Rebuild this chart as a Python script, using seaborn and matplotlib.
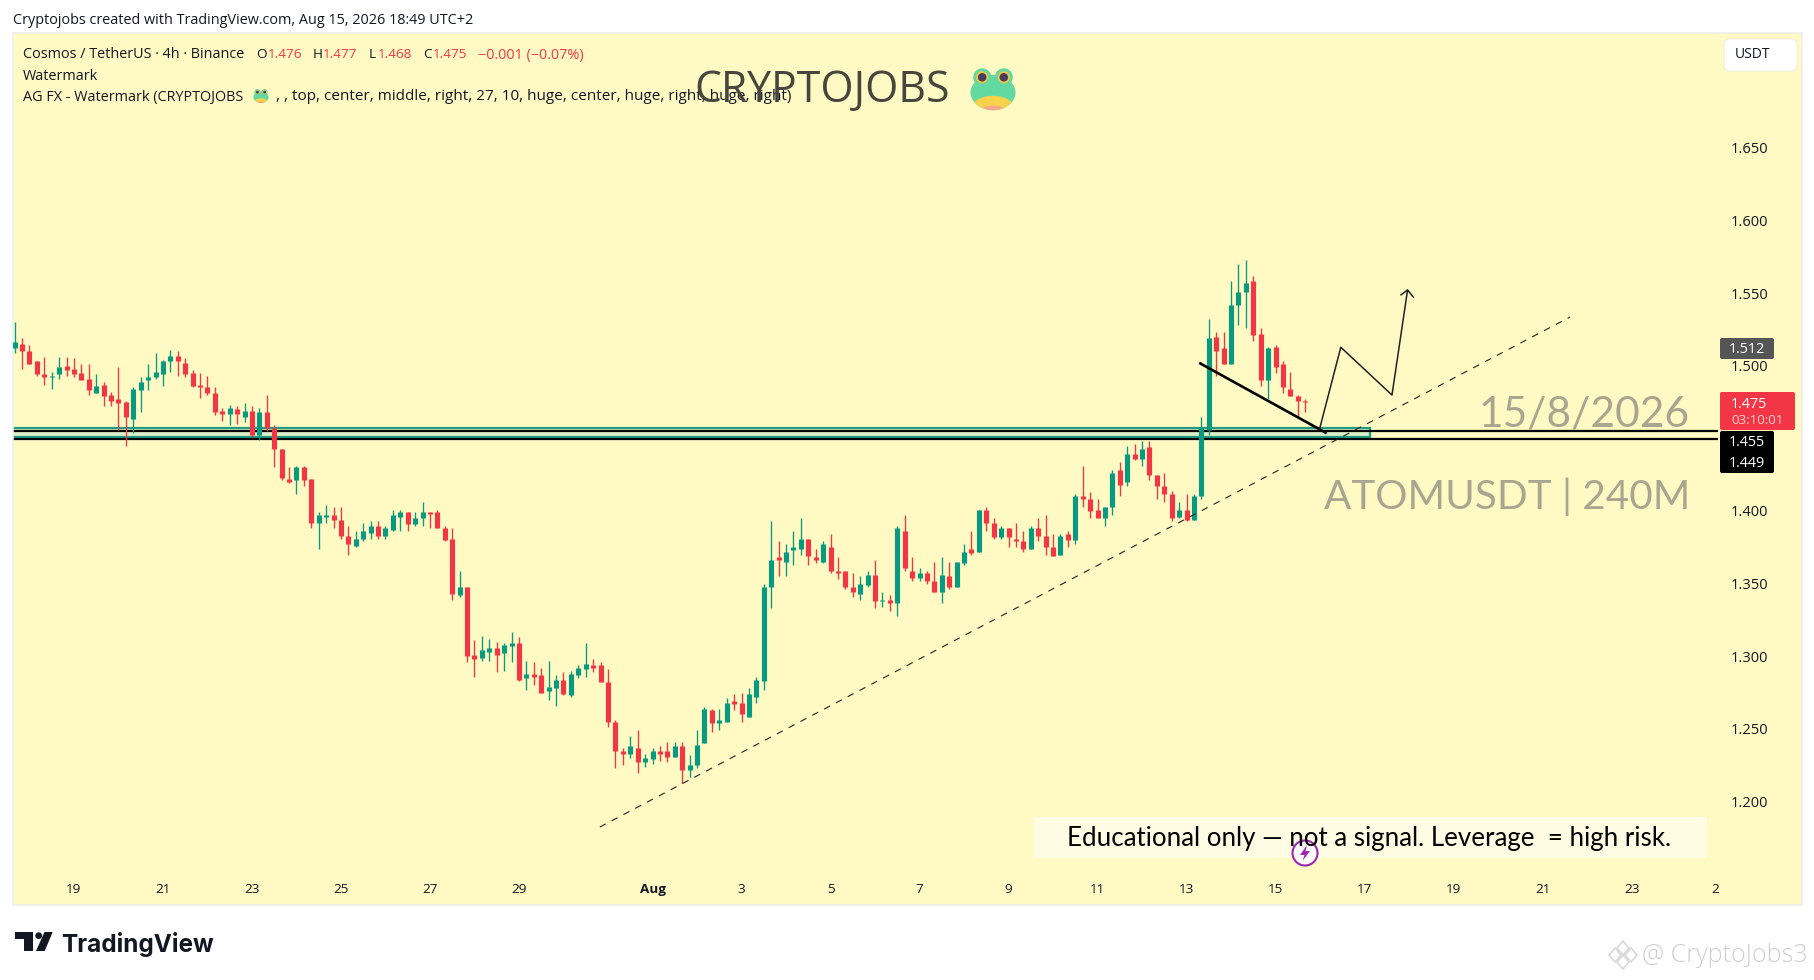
import numpy as np
import pandas as pd
import seaborn as sns
import matplotlib
matplotlib.use('Agg')
import matplotlib.pyplot as plt
from matplotlib.patches import Ellipse, Rectangle, FancyBboxPatch, Polygon, Circle

# ATOMUSDT 4h candles, first bar is 8 bars before Jul 19 00:00
first_bar = -8
opens = [
    1.512,1.515,1.510,1.503,1.494,1.492,1.494,1.500,1.498,1.495,
    1.491,1.481,1.487,1.480,1.477,1.475,1.463,1.483,1.490,1.492,
    1.494,1.503,1.507,1.502,1.495,1.487,1.485,1.481,1.469,1.467,
    1.470,1.465,1.469,1.452,1.468,1.457,1.443,1.422,1.421,1.430,
    1.422,1.392,1.396,1.397,1.394,1.383,1.376,1.381,1.385,1.390,
    1.383,1.387,1.396,1.399,1.391,1.395,1.399,1.399,1.388,1.381,
    1.342,1.348,1.301,1.299,1.303,1.306,1.302,1.307,1.309,1.285,
    1.288,1.287,1.276,1.278,1.284,1.273,1.287,1.291,1.294,1.294,
    1.282,1.255,1.235,1.233,1.237,1.227,1.229,1.235,1.235,1.231,
    1.238,1.222,1.225,1.240,1.263,1.254,1.255,1.269,1.268,1.258,
    1.272,1.283,1.348,1.368,1.365,1.373,1.374,1.381,1.368,1.365,
    1.375,1.359,1.359,1.348,1.343,1.349,1.356,1.338,1.339,1.337,
    1.386,1.359,1.354,1.357,1.352,1.344,1.355,1.348,1.364,1.374,
    1.372,1.401,1.392,1.382,1.388,1.381,1.379,1.374,1.388,1.383,
    1.375,1.370,1.384,1.380,1.410,1.408,1.401,1.395,1.403,1.428,
    1.420,1.439,1.436,1.444,1.425,1.417,1.412,1.396,1.401,1.394,
    1.410,1.456,1.520,1.512,1.501,1.542,1.551,1.558,1.522,1.490,
    1.513,1.501,1.484,1.479,1.476]
highs = [
    1.530,1.519,1.514,1.503,1.506,1.496,1.506,1.506,1.505,1.501,
    1.501,1.494,1.489,1.482,1.499,1.476,1.485,1.492,1.501,1.509,
    1.504,1.511,1.510,1.505,1.497,1.495,1.493,1.485,1.471,1.473,
    1.472,1.474,1.472,1.471,1.480,1.459,1.443,1.430,1.431,1.431,
    1.422,1.399,1.404,1.403,1.403,1.390,1.386,1.392,1.393,1.393,
    1.390,1.401,1.401,1.399,1.399,1.406,1.399,1.401,1.390,1.388,
    1.359,1.348,1.311,1.314,1.312,1.310,1.309,1.317,1.313,1.297,
    1.296,1.292,1.297,1.287,1.289,1.290,1.294,1.309,1.298,1.296,
    1.291,1.256,1.237,1.245,1.249,1.233,1.237,1.238,1.241,1.241,
    1.241,1.232,1.249,1.265,1.264,1.264,1.271,1.274,1.275,1.278,
    1.286,1.350,1.393,1.379,1.377,1.386,1.395,1.381,1.374,1.379,
    1.384,1.368,1.359,1.357,1.355,1.359,1.366,1.344,1.342,1.390,
    1.397,1.368,1.361,1.359,1.365,1.368,1.365,1.365,1.377,1.386,
    1.401,1.403,1.395,1.390,1.388,1.392,1.386,1.390,1.395,1.397,
    1.384,1.384,1.386,1.412,1.431,1.413,1.408,1.403,1.428,1.434,
    1.445,1.446,1.448,1.448,1.425,1.426,1.414,1.406,1.412,1.412,
    1.465,1.532,1.523,1.523,1.558,1.570,1.573,1.562,1.526,1.513,
    1.514,1.503,1.496,1.480,1.477]
lows = [
    1.509,1.498,1.501,1.493,1.487,1.484,1.491,1.493,1.492,1.490,
    1.480,1.481,1.472,1.472,1.456,1.445,1.454,1.468,1.483,1.491,
    1.486,1.496,1.493,1.492,1.485,1.478,1.480,1.466,1.462,1.459,
    1.460,1.461,1.451,1.449,1.455,1.430,1.421,1.419,1.412,1.417,
    1.388,1.374,1.392,1.388,1.381,1.370,1.375,1.379,1.381,1.381,
    1.381,1.386,1.386,1.386,1.390,1.390,1.388,1.388,1.379,1.339,
    1.341,1.296,1.286,1.297,1.297,1.289,1.290,1.296,1.283,1.277,
    1.280,1.275,1.270,1.266,1.273,1.272,1.285,1.286,1.289,1.282,
    1.251,1.223,1.225,1.230,1.220,1.224,1.226,1.228,1.227,1.231,
    1.213,1.217,1.223,1.240,1.248,1.249,1.255,1.263,1.255,1.258,
    1.268,1.277,1.333,1.355,1.355,1.363,1.370,1.363,1.364,1.364,
    1.357,1.353,1.346,1.341,1.339,1.348,1.333,1.334,1.331,1.328,
    1.359,1.352,1.352,1.350,1.344,1.337,1.346,1.348,1.363,1.370,
    1.372,1.386,1.381,1.381,1.375,1.375,1.372,1.374,1.379,1.370,
    1.369,1.370,1.375,1.377,1.403,1.395,1.395,1.390,1.397,1.410,
    1.417,1.435,1.431,1.421,1.408,1.406,1.393,1.395,1.393,1.394,
    1.408,1.452,1.493,1.501,1.501,1.528,1.526,1.517,1.486,1.477,
    1.495,1.481,1.479,1.464,1.468]
closes = [
    1.516,1.510,1.501,1.494,1.492,1.493,1.499,1.497,1.494,1.490,
    1.483,1.486,1.479,1.476,1.474,1.465,1.484,1.489,1.492,1.496,
    1.503,1.507,1.503,1.494,1.486,1.485,1.481,1.468,1.467,1.471,
    1.467,1.469,1.452,1.468,1.457,1.443,1.423,1.420,1.430,1.421,
    1.392,1.397,1.397,1.394,1.383,1.377,1.381,1.386,1.390,1.383,
    1.388,1.397,1.399,1.391,1.395,1.399,1.398,1.388,1.380,1.343,
    1.348,1.300,1.298,1.304,1.306,1.301,1.308,1.309,1.284,1.288,
    1.286,1.275,1.279,1.284,1.274,1.288,1.292,1.295,1.292,1.282,
    1.255,1.235,1.233,1.238,1.227,1.230,1.235,1.233,1.231,1.238,
    1.222,1.225,1.239,1.264,1.254,1.256,1.268,1.267,1.260,1.274,
    1.284,1.348,1.366,1.366,1.372,1.375,1.381,1.369,1.366,1.377,
    1.359,1.357,1.348,1.344,1.350,1.356,1.338,1.339,1.337,1.388,
    1.361,1.354,1.357,1.352,1.344,1.356,1.348,1.365,1.372,1.371,
    1.401,1.392,1.382,1.388,1.382,1.379,1.374,1.388,1.383,1.375,
    1.369,1.383,1.380,1.410,1.408,1.400,1.395,1.403,1.426,1.418,
    1.439,1.436,1.443,1.425,1.417,1.412,1.395,1.401,1.394,1.410,
    1.457,1.519,1.510,1.501,1.542,1.551,1.557,1.521,1.490,1.512,
    1.499,1.485,1.479,1.476,1.475]

price_ticks = [1.20, 1.25, 1.30, 1.35, 1.40, 1.50, 1.55, 1.60, 1.65]  # 1.45 is hidden behind the level tags
time_ticks = [0, 12, 24, 36, 48, 60, 78, 90, 102, 114, 126, 138, 150, 162, 174, 186, 198, 210, 221.3]
time_labels = ['19', '21', '23', '25', '27', '29', 'Aug', '3', '5', '7', '9', '11', '13', '15', '17', '19', '21', '23', '2']

# drawings on the chart (bar number, price)
box_low, box_high = 1.4509, 1.4573
box_end = 174.8
level_high, level_low = 1.455, 1.4495
level_end = 221.7
trend_x, trend_y = [70.9, 201.7], [1.1825, 1.5335]
pullback_x, pullback_y = [151.7, 168.9], [1.502, 1.4535]
path_x, path_y = [167.9, 170.8, 177.7, 179.8], [1.4557, 1.5127, 1.4798, 1.5521]
head_x, head_y = [178.9, 179.8, 180.6], [1.5487, 1.5521, 1.5471]

GREEN = '#089981'
RED = '#F23645'
PANEL = '#FFF9C4'
TEAL = '#1f9e82'
W, H = 1814, 980
xlim = (-8.22, 232.98)
ylim = (1.1288, 1.729)

sns.set_theme(style='white')
plt.rcParams['font.family'] = ['Open Sans', 'DejaVu Sans']

fig = plt.figure(figsize=(W / 100, H / 100), dpi=100, facecolor='white')
ax = fig.add_axes([13 / W, 1 - 905 / H, (1802 - 13) / W, (905 - 33) / H], facecolor=PANEL)

bars = np.arange(first_bar, first_bar + len(opens))
o, h, l, c = map(np.array, (opens, highs, lows, closes))
side = np.where(c >= o, 'up', 'down')
palette = {'up': GREEN, 'down': RED}

wicks = pd.DataFrame({'bar': np.r_[bars, bars], 'price': np.r_[l, h], 'side': np.r_[side, side]})
bodies = pd.DataFrame({'bar': np.r_[bars, bars], 'price': np.r_[o, c], 'side': np.r_[side, side]})
sns.lineplot(data=wicks, x='bar', y='price', hue='side', units='bar', estimator=None, palette=palette,
             legend=False, linewidth=0.95, solid_capstyle='butt', zorder=3, ax=ax)
sns.lineplot(data=bodies, x='bar', y='price', hue='side', units='bar', estimator=None, palette=palette,
             legend=False, linewidth=3.7, solid_capstyle='butt', zorder=3, ax=ax)

# support zone and levels
ax.add_patch(Rectangle((xlim[0] - 2, box_low), box_end - xlim[0] + 2, box_high - box_low, facecolor='#dcefc6',
                       edgecolor=TEAL, linewidth=1.6, zorder=1))
ax.hlines([level_high, level_low], xlim[0], level_end, colors='black', linewidth=1.6, zorder=1.5)

ax.plot(trend_x, trend_y, color='#222222', linewidth=0.8, linestyle=(0, (6, 6)), zorder=4)
ax.plot(pullback_x, pullback_y, color='black', linewidth=1.9, solid_capstyle='butt', zorder=4)
ax.plot(path_x, path_y, color='#222222', linewidth=1.1, zorder=4)
ax.plot(head_x, head_y, color='#222222', linewidth=1.1, zorder=4)

ax.set_xlim(*xlim)
ax.set_ylim(*ylim)
ax.set_xlabel('')
ax.set_ylabel('')
ax.set_xticks(time_ticks)
ax.set_xticklabels(time_labels)
ax.get_xticklabels()[6].set_fontweight('bold')
ax.set_yticks(price_ticks)
ax.set_yticklabels(['%.3f' % p for p in price_ticks])
ax.yaxis.tick_right()
ax.tick_params(axis='x', length=0, pad=-16, labelsize=9.7, labelcolor='#131722')
ax.tick_params(axis='y', length=0, pad=-51, labelsize=10.5, labelcolor='#131722')
for s in ax.spines.values():
    s.set_color('#eeeeee')
    s.set_linewidth(1.2)

# everything else sits on a pixel overlay
ov = fig.add_axes([0, 0, 1, 1], facecolor='none', zorder=5)
ov.set_xlim(0, W)
ov.set_ylim(H, 0)
ov.axis('off')


def label(x, y, text, size=10.4, color='#131722', ha='left', **kw):
    return ov.text(x, y, text, fontsize=size, color=color, ha=ha, va='center', **kw)


def frog(cx, cy, s):
    head = Ellipse((cx, cy + 0.08 * s), s, 0.78 * s, facecolor='#62d9a0', edgecolor='none')
    ov.add_patch(Circle((cx - 0.24 * s, cy - 0.26 * s), 0.2 * s, facecolor='#62d9a0', edgecolor='none'))
    ov.add_patch(Circle((cx + 0.24 * s, cy - 0.26 * s), 0.2 * s, facecolor='#62d9a0', edgecolor='none'))
    ov.add_patch(head)
    belly = Ellipse((cx, cy + 0.55 * s), 1.1 * s, 0.8 * s, facecolor='#f8d24a', edgecolor='none')
    ov.add_patch(belly)
    belly.set_clip_path(head)
    chin = Ellipse((cx, cy + 0.72 * s), 0.9 * s, 0.7 * s, facecolor='#f7a58c', edgecolor='none')
    ov.add_patch(chin)
    chin.set_clip_path(head)
    for side_x in (-0.24, 0.24):
        ov.add_patch(Circle((cx + side_x * s, cy - 0.26 * s), 0.135 * s, facecolor='#f1c842', edgecolor='none'))
        ov.add_patch(Circle((cx + side_x * s, cy - 0.26 * s), 0.095 * s, facecolor='#4a3f63', edgecolor='none'))


# header and legend lines
label(13, 21, 'Cryptojobs created with TradingView.com, Aug 15, 2026 18:49 UTC+2')
label(23, 55, 'Cosmos / TetherUS · 4h · Binance')
for x, t in [(256, 'O'), (313, 'H'), (369, 'L'), (423, 'C')]:
    label(x, 55, t, size=9.7)
for x, t in [(268, '1.476'), (323, '1.477'), (378, '1.468'), (433, '1.475')]:
    label(x, 55, t, size=9.7, color=RED)
label(478, 55, '−0.001 (−0.07%)', color=RED)
label(23, 76, 'Watermark')
label(23, 97, 'AG FX - Watermark (CRYPTOJOBS')
frog(261, 96, 15)
label(275.6, 97, ', , top, center, middle, right, 27, 10, huge, center, huge, right, huge, right)', size=11)

# watermarks on the chart
label(694, 91, 'CRYPTOJOBS', size=30.8, color='#45463e')
frog(993, 89, 45)
label(1690, 414, '15/8/2026', size=30.6, color='#a8a68f', ha='right', family='Lato')
label(1690, 497, 'ATOMUSDT | 240M', size=29.1, color='#a8a68f', ha='right', family='Lato')

# disclaimer box
ov.add_patch(Rectangle((1034, 817), 673, 41, facecolor='#fffce3', edgecolor='none'))
label(1067, 838, 'Educational only — not a signal. Leverage  = high risk.', size=18.6, color='black', family='Lato')
ov.add_patch(Circle((1305, 853), 12.5, facecolor='white', edgecolor='#9c27b0', linewidth=1.5))
ov.add_patch(Polygon([(1307, 845), (1300, 855), (1304.5, 855), (1302.5, 861), (1310, 851), (1305.5, 851)],
                     facecolor='#9c27b0', edgecolor='none'))

# currency button
ov.add_patch(FancyBboxPatch((1724, 39), 73, 32, boxstyle='round,pad=0,rounding_size=6', facecolor='white',
                            edgecolor='#f0f0e0', linewidth=0.8))
label(1752, 55, 'USDT', size=10, ha='center')

# price tags
ov.add_patch(FancyBboxPatch((1720, 338), 54, 21, boxstyle='round,pad=0,rounding_size=2', facecolor='#555555',
                            edgecolor='none'))
label(1747, 349, '1.512', color='white', ha='center')
ov.add_patch(FancyBboxPatch((1720, 392), 75, 38, boxstyle='round,pad=0,rounding_size=2', facecolor=RED,
                            edgecolor='none'))
label(1731, 404, '1.475', color='white')
label(1731, 420, '03:10:01', size=9.6, color='#fbd0d4')
ov.add_patch(FancyBboxPatch((1720, 431), 54, 42, boxstyle='round,pad=0,rounding_size=2', facecolor='black',
                            edgecolor='none'))
label(1747, 442, '1.455', color='white', ha='center')
label(1747, 463, '1.449', color='white', ha='center')

# TradingView logo
ov.add_patch(Polygon([(15, 932), (33.3, 932), (33.3, 951), (24, 951), (24, 939), (15, 939)], facecolor='#131722',
                     edgecolor='none'))
ov.add_patch(Circle((38.7, 935.7), 3.4, facecolor='#131722', edgecolor='none'))
ov.add_patch(Polygon([(44.5, 932), (52.7, 932), (44.7, 951), (36, 951)], facecolor='#131722', edgecolor='none'))
label(61, 944, 'TradingView', size=17.5, weight='bold', family='Inter')

# Binance square watermark
for dx, dy in [(0, -7), (-8, 0), (8, 0), (0, 7)]:
    ov.add_patch(Polygon([(1623 + dx, 948 + dy), (1629 + dx, 955 + dy), (1623 + dx, 962 + dy), (1617 + dx, 955 + dy)],
                         facecolor='white', edgecolor='#d9d9d9', linewidth=1.2))
label(1642, 955, '@ CryptoJobs3', size=18, color='#cfcfcf', weight='light')

fig.savefig('out.png', dpi=100)
